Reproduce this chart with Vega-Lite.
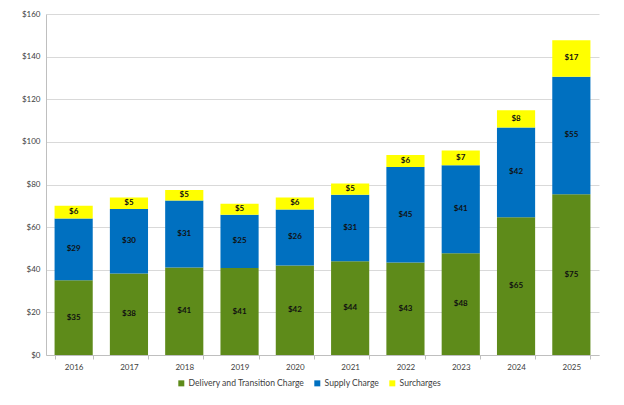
{
  "$schema": "https://vega.github.io/schema/vega-lite/v6.json",
  "width": 553,
  "height": 341,
  "autosize": {"type": "none"},
  "padding": {"left": 46, "top": 14, "right": 25, "bottom": 50},
  "background": "white",
  "config": {"font": "Lato", "view": {"stroke": null}},
  "data": {
    "values": [
      {"year": "2016", "series": "Delivery and Transition Charge", "value": 35.1},
      {"year": "2016", "series": "Supply Charge", "value": 29.0},
      {"year": "2016", "series": "Surcharges", "value": 5.9},
      {"year": "2017", "series": "Delivery and Transition Charge", "value": 38.2},
      {"year": "2017", "series": "Supply Charge", "value": 30.3},
      {"year": "2017", "series": "Surcharges", "value": 5.4},
      {"year": "2018", "series": "Delivery and Transition Charge", "value": 41.1},
      {"year": "2018", "series": "Supply Charge", "value": 31.4},
      {"year": "2018", "series": "Surcharges", "value": 4.9},
      {"year": "2019", "series": "Delivery and Transition Charge", "value": 40.8},
      {"year": "2019", "series": "Supply Charge", "value": 25.0},
      {"year": "2019", "series": "Surcharges", "value": 5.2},
      {"year": "2020", "series": "Delivery and Transition Charge", "value": 42.0},
      {"year": "2020", "series": "Supply Charge", "value": 26.3},
      {"year": "2020", "series": "Surcharges", "value": 5.6},
      {"year": "2021", "series": "Delivery and Transition Charge", "value": 44.0},
      {"year": "2021", "series": "Supply Charge", "value": 31.2},
      {"year": "2021", "series": "Surcharges", "value": 5.3},
      {"year": "2022", "series": "Delivery and Transition Charge", "value": 43.4},
      {"year": "2022", "series": "Supply Charge", "value": 44.8},
      {"year": "2022", "series": "Surcharges", "value": 5.6},
      {"year": "2023", "series": "Delivery and Transition Charge", "value": 47.7},
      {"year": "2023", "series": "Supply Charge", "value": 41.3},
      {"year": "2023", "series": "Surcharges", "value": 7.0},
      {"year": "2024", "series": "Delivery and Transition Charge", "value": 64.6},
      {"year": "2024", "series": "Supply Charge", "value": 42.2},
      {"year": "2024", "series": "Surcharges", "value": 8.0},
      {"year": "2025", "series": "Delivery and Transition Charge", "value": 75.4},
      {"year": "2025", "series": "Supply Charge", "value": 55.2},
      {"year": "2025", "series": "Surcharges", "value": 17.1}
    ]
  },
  "encoding": {
    "x": {
      "field": "year",
      "type": "ordinal",
      "scale": {"paddingInner": 0.31, "paddingOuter": 0.155},
      "axis": {
        "title": null,
        "labelAngle": 0,
        "labelFontSize": 8,
        "labelColor": "#404040",
        "labelPadding": 4,
        "domainColor": "#bfbfbf",
        "tickColor": "#bfbfbf",
        "tickBand": "extent",
        "tickSize": 4,
        "grid": false
      }
    }
  },
  "layer": [
    {
      "mark": {"type": "bar"},
      "encoding": {
        "y": {
          "field": "value",
          "type": "quantitative",
          "stack": "zero",
          "scale": {"domain": [0, 160]},
          "axis": {
            "title": null,
            "values": [0, 20, 40, 60, 80, 100, 120, 140, 160],
            "format": "$.0f",
            "labelFontSize": 8,
            "labelColor": "#404040",
            "labelPadding": 6,
            "ticks": false,
            "domainColor": "#bfbfbf",
            "gridColor": "#d9d9d9",
            "gridWidth": 1
          }
        },
        "order": {"field": "series", "sort": "ascending"},
        "color": {
          "field": "series",
          "type": "nominal",
          "scale": {
            "domain": ["Delivery and Transition Charge", "Supply Charge", "Surcharges"],
            "range": ["#5E8B1A", "#0070C0", "#FFFF00"]
          },
          "legend": {
            "title": null,
            "orient": "none",
            "direction": "horizontal",
            "legendX": 131,
            "legendY": 365,
            "symbolType": "square",
            "symbolSize": 36,
            "symbolStrokeWidth": 0,
            "labelFontSize": 8.6,
            "labelColor": "#404040",
            "columnPadding": 8,
            "labelOffset": 3
          }
        }
      }
    },
    {
      "transform": [
        {"stack": "value", "groupby": ["year"], "sort": [{"field": "series", "order": "ascending"}], "as": ["y0", "y1"]},
        {"fold": ["y0", "y1"], "as": ["edge", "pos"]},
        {"aggregate": [{"op": "mean", "field": "pos", "as": "mid"}], "groupby": ["year", "series", "value"]}
      ],
      "mark": {"type": "text", "fontSize": 8, "fontWeight": "bold", "color": "#111111"},
      "encoding": {
        "y": {"field": "mid", "type": "quantitative"},
        "text": {"field": "value", "type": "quantitative", "format": "$.0f"}
      }
    }
  ]
}
